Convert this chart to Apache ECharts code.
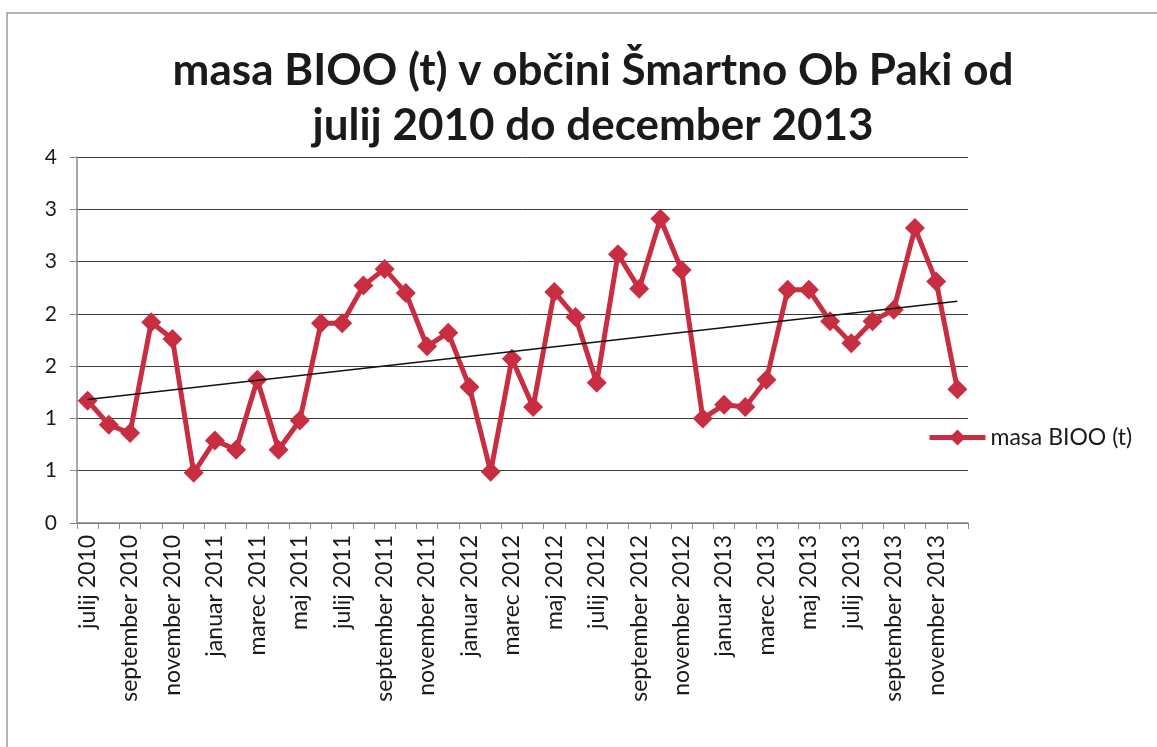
<!DOCTYPE html>
<html>
<head>
<meta charset="utf-8">
<script src="https://cdn.jsdelivr.net/npm/echarts@6/dist/echarts.min.js"></script>
<style>
  html, body { margin: 0; padding: 0; background: #fff; }
  #chart { width: 1157px; height: 747px; }
</style>
</head>
<body>
<div id="chart"></div>
<script>
// months, julij 2010 .. december 2013
var months = [
    "julij 2010", "avgust 2010", "september 2010", "oktober 2010", "november 2010", "december 2010",
    "januar 2011", "februar 2011", "marec 2011", "april 2011", "maj 2011", "junij 2011",
    "julij 2011", "avgust 2011", "september 2011", "oktober 2011", "november 2011", "december 2011",
    "januar 2012", "februar 2012", "marec 2012", "april 2012", "maj 2012", "junij 2012",
    "julij 2012", "avgust 2012", "september 2012", "oktober 2012", "november 2012", "december 2012",
    "januar 2013", "februar 2013", "marec 2013", "april 2013", "maj 2013", "junij 2013",
    "julij 2013", "avgust 2013", "september 2013", "oktober 2013", "november 2013", "december 2013"
];

// masa BIOO (t)
var masaBioo = [
    1.17, 0.94, 0.86, 1.92, 1.76, 0.48,
    0.79, 0.70, 1.37, 0.70, 0.98, 1.91,
    1.91, 2.27, 2.43, 2.20, 1.69, 1.82,
    1.30, 0.49, 1.57, 1.11, 2.21, 1.97,
    1.34, 2.57, 2.24, 2.91, 2.42, 1.00,
    1.13, 1.11, 1.37, 2.23, 2.23, 1.93,
    1.72, 1.93, 2.04, 2.82, 2.31, 1.28
];

// linear trend line, value at first and last month
var trendStart = 1.18;
var trendEnd = 2.12;

// y labels as Excel shows them (0 decimals on a 0.5 step)
var yTickLabels = ["0", "1", "1", "2", "2", "3", "3", "4"];

var titleText = "masa BIOO (t) v občini Šmartno Ob Paki od\njulij 2010 do december 2013";
var seriesName = "masa BIOO (t)";

var font = "Lato, 'Open Sans', sans-serif";
var lineColor = "#c82d42";

var myChart = echarts.init(document.getElementById("chart"));
var option = {
    backgroundColor: "#fff",
    animation: false,
    title: {
        text: titleText,
        top: 38,
        left: 588,
        textAlign: "center",
        textStyle: {
            fontFamily: font,
            fontWeight: "bold",
            fontSize: 44,
            lineHeight: 55,
            color: "#1a1a1a"
        }
    },
    graphic: [{
        type: "rect",
        shape: { x: 7, y: 13, width: 1160, height: 760 },
        style: { fill: "none", stroke: "#9a9a9a", lineWidth: 1.5 },
        silent: true
    }],
    legend: {
        left: 927,
        top: 426,
        padding: 0,
        itemWidth: 56,
        itemHeight: 20,
        itemGap: 5,
        data: [{ name: seriesName, lineStyle: { width: 5 } }],
        textStyle: { fontFamily: font, fontSize: 23, color: "#1a1a1a" }
    },
    grid: { left: 77, right: 189, top: 157, bottom: 224 },
    xAxis: {
        type: "category",
        data: months,
        boundaryGap: true,
        axisLine: { lineStyle: { color: "#8a8a8a", width: 1.5 } },
        axisTick: { show: true, interval: 0, length: 6, lineStyle: { color: "#8a8a8a" } },
        axisLabel: {
            interval: 1,
            rotate: 90,
            margin: 12,
            fontFamily: font,
            fontSize: 23,
            color: "#1a1a1a"
        }
    },
    yAxis: {
        type: "value",
        min: 0,
        max: 3.5,
        interval: 0.5,
        axisLine: { show: true, lineStyle: { color: "#8a8a8a", width: 1.5 } },
        axisTick: { show: true, length: 7, lineStyle: { color: "#8a8a8a" } },
        splitLine: { lineStyle: { color: "#3a3a3a", width: 1 } },
        axisLabel: {
            margin: 20,
            fontFamily: font,
            fontSize: 21,
            color: "#1a1a1a",
            formatter: function(v) {
                return yTickLabels[Math.round(v / 0.5)];
            }
        }
    },
    series: [{
        name: seriesName,
        type: "line",
        data: masaBioo,
        symbol: "diamond",
        symbolSize: 20,
        showAllSymbol: true,
        lineStyle: { color: lineColor, width: 5 },
        itemStyle: { color: lineColor },
        z: 3
    }, {
        name: "trend",
        type: "line",
        data: [[months[0], trendStart], [months[months.length - 1], trendEnd]],
        symbol: "none",
        lineStyle: { color: "#111", width: 1.5 },
        z: 4
    }]
};
myChart.setOption(option);
</script>
</body>
</html>
